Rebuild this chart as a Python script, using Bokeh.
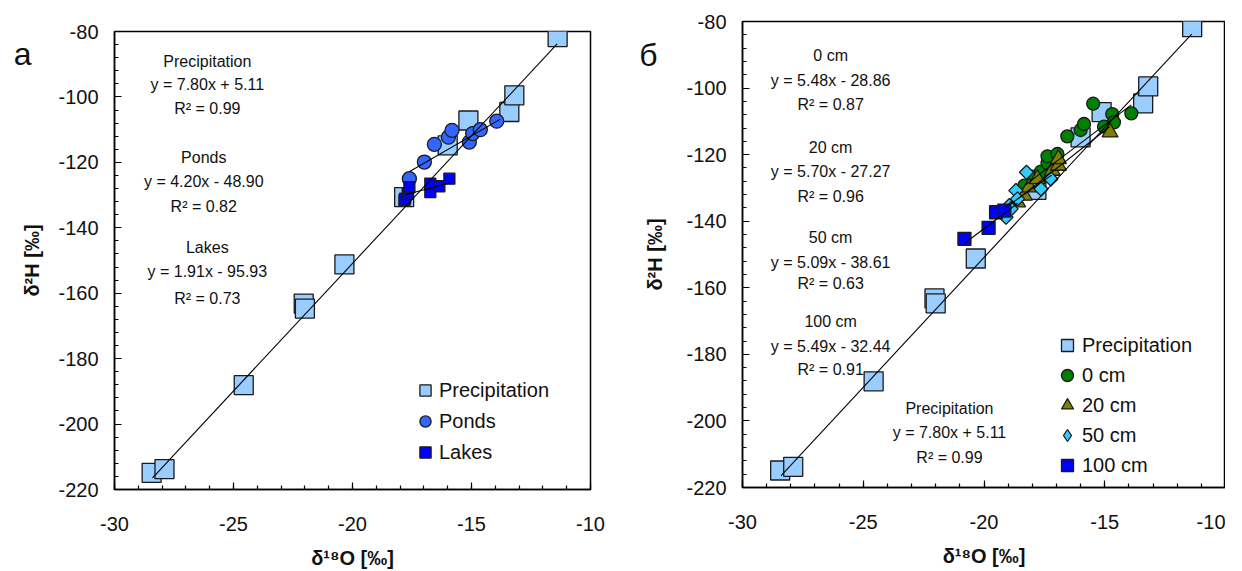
from bokeh.plotting import figure
from bokeh.layouts import row
from bokeh.models import FixedTicker, Label, LinearAxis, Legend, LegendItem
from bokeh.embed import file_html
from bokeh.resources import INLINE

FONT = "Liberation Sans"

# ---------------- data: panel а ----------------
precip_x = [-28.44, -27.90, -24.57, -22.05, -22.00, -20.34, -17.83, -16.00, -15.13, -13.41, -13.20, -11.38]
precip_y = [-214.9, -213.8, -188.1, -163.2, -164.7, -151.2, -130.6, -114.8, -107.2, -104.6, -99.5, -81.7]

ponds_x = [-17.61, -16.98, -16.56, -15.97, -15.82, -15.09, -14.95, -14.63, -13.94]
ponds_y = [-125.0, -119.9, -114.5, -112.3, -110.2, -113.8, -111.2, -110.0, -107.4]

lakes_x = [-17.82, -17.79, -17.68, -17.61, -16.73, -16.73, -16.35, -15.93]
lakes_y = [-131.6, -131.1, -129.6, -127.6, -129.1, -126.5, -127.3, -125.0]

fit_names_a = ["Precipitation", "Ponds", "Lakes"]
fit_slope_a = [7.80, 4.20, 1.91]
fit_icpt_a = [5.11, -48.90, -95.93]
fit_xmin_a = [-28.4, -17.6, -17.8]
fit_xmax_a = [-11.4, -13.8, -15.9]
fit_r2_a = [0.99, 0.82, 0.73]

# ---------------- data: panel б ----------------
cm0_x = [-18.33, -17.99, -17.64, -17.37, -17.37, -16.96, -16.55, -16.00, -15.86, -15.48, -15.03, -14.69, -14.62, -13.90]
cm0_y = [-129.3, -126.6, -125.1, -122.6, -120.5, -119.8, -114.5, -112.6, -110.8, -104.7, -111.6, -107.8, -110.3, -107.6]

cm20_x = [-18.61, -18.33, -18.13, -17.79, -17.17, -16.92, -16.92, -14.78]
cm20_y = [-134.3, -132.3, -129.8, -127.3, -124.8, -123.3, -121.3, -113.3]

cm50_x = [-19.09, -18.95, -18.88, -18.68, -18.61, -18.24, -17.64, -17.23]
cm50_y = [-138.8, -135.3, -136.3, -130.8, -133.3, -125.3, -130.3, -127.3]

cm100_x = [-20.81, -19.81, -19.50, -19.16]
cm100_y = [-145.3, -142.0, -137.3, -136.8]

fit_names_b = ["0 cm", "20 cm", "50 cm", "100 cm", "Precipitation"]
fit_slope_b = [5.48, 5.70, 5.09, 5.49, 7.80]
fit_icpt_b = [-28.86, -27.27, -38.61, -32.44, 5.11]
fit_xmin_b = [-18.3, -18.6, -19.1, -20.8, -28.4]
fit_xmax_b = [-13.9, -14.8, -17.2, -18.6, -11.4]
fit_r2_b = [0.87, 0.96, 0.63, 0.91, 0.99]

x_ticks = [-30, -25, -20, -15, -10]
y_ticks = [-220, -200, -180, -160, -140, -120, -100, -80]
panel_letters = ["а", "б"]

PRECIP = "#99CCFF"
PONDS = "#3366FF"
BLUE = "#0000FF"
GREEN = "#008000"
OLIVE = "#808000"
CYAN = "#33CCFF"
EDGE = "#1a1a1a"
TXT = "#111111"


def eq_text(m, b):
    sign = "+" if b >= 0 else "-"
    return "y = %.2fx %s %.2f" % (m, sign, abs(b))


def make_fig(fw, fh, bl, br, bt, bb, letter, letter_y, letter_standoff, ylab_standoff, xlab_standoff):
    p = figure(frame_width=fw, frame_height=fh,
               min_border_left=bl, min_border_right=br,
               min_border_top=bt, min_border_bottom=bb,
               x_range=(-30, -10), y_range=(-220, -80),
               output_backend="svg", toolbar_location=None,
               background_fill_color="white", border_fill_color="white")
    p.grid.visible = False
    p.outline_line_color = "black"
    p.outline_line_width = 1.5
    p.xaxis.ticker = FixedTicker(ticks=x_ticks, minor_ticks=list(range(-30, -9)))
    p.yaxis.ticker = FixedTicker(ticks=y_ticks, minor_ticks=list(range(-220, -79, 4)))
    p.xaxis.major_label_overrides = {t: str(t) for t in x_ticks}
    p.yaxis.major_label_overrides = {t: str(t) for t in y_ticks}
    for ax in (p.xaxis[0], p.yaxis[0]):
        ax.axis_line_width = 1.5
        ax.axis_line_color = "black"
        ax.major_tick_in = 7
        ax.major_tick_out = 0
        ax.minor_tick_in = 4
        ax.minor_tick_out = 0
        ax.major_tick_line_width = 1.2
        ax.minor_tick_line_width = 1.2
        ax.major_label_text_font = FONT
        ax.major_label_text_font_size = "20px"
        ax.major_label_text_color = TXT
        ax.axis_label_text_font = FONT
        ax.axis_label_text_font_style = "bold"
        ax.axis_label_text_font_size = "20px"
        ax.axis_label_text_color = TXT
    p.xaxis.major_label_standoff = 27
    p.yaxis.major_label_standoff = 16
    p.xaxis.axis_label = "δ¹⁸O [‰]"
    p.xaxis.axis_label_standoff = xlab_standoff

    # outer left axis: carries the panel letter and the y-axis title
    outer = LinearAxis(ticker=FixedTicker(ticks=[letter_y], minor_ticks=[]),
                       major_label_overrides={letter_y: letter},
                       axis_label="δ²H [‰]")
    outer.axis_line_color = None
    outer.major_tick_line_color = None
    outer.minor_tick_line_color = None
    outer.major_tick_in = 0
    outer.major_tick_out = 0
    outer.major_label_standoff = letter_standoff
    outer.major_label_text_font = FONT
    outer.major_label_text_font_size = "32px"
    outer.major_label_text_color = TXT
    outer.axis_label_text_font = FONT
    outer.axis_label_text_font_style = "bold"
    outer.axis_label_text_font_size = "20px"
    outer.axis_label_text_color = TXT
    outer.axis_label_standoff = ylab_standoff
    p.add_layout(outer, "left")
    return p


def add_text(p, x, y, txt):
    p.add_layout(Label(x=x, y=y, text=txt, text_align="center", text_baseline="middle",
                       text_font=FONT, text_font_size="16px", text_color=TXT))


def add_fit_lines(p, slopes, icpts, xmins, xmaxs):
    for m, b, x0, x1 in zip(slopes, icpts, xmins, xmaxs):
        p.line([x0, x1], [m * x0 + b, m * x1 + b], line_color="black", line_width=1.1)


def style_legend(lg, loc, glyph, label_h, spacing, standoff):
    lg.location = loc
    lg.padding = 0
    lg.margin = 0
    lg.spacing = spacing
    lg.glyph_width = glyph
    lg.glyph_height = glyph
    lg.label_height = label_h
    lg.label_standoff = standoff
    lg.label_text_font = FONT
    lg.label_text_font_size = "20px"
    lg.label_text_color = TXT
    lg.border_line_alpha = 0
    lg.background_fill_alpha = 0


# ---------------- panel а ----------------
p1 = make_fig(476, 458, 114, 38, 31, 80, panel_letters[0], -87, 24, -32, 13)
p1.scatter(precip_x, precip_y, marker="square", size=19, fill_color=PRECIP,
           line_color=EDGE, line_width=1.3, legend_label="Precipitation")
p1.scatter(ponds_x, ponds_y, marker="circle", size=14, fill_color=PONDS,
           line_color=EDGE, line_width=1.3, legend_label="Ponds")
p1.scatter(lakes_x, lakes_y, marker="square", size=11, fill_color=BLUE,
           line_color=EDGE, line_width=1.3, legend_label="Lakes")
add_fit_lines(p1, fit_slope_a, fit_icpt_a, fit_xmin_a, fit_xmax_a)

text_x_a = [-26.1, -26.25, -26.1]
text_y_a = [[-89.2, -96.2, -103.5], [-118.5, -125.8, -133.5], [-146.0, -153.3, -161.6]]
for i, name in enumerate(fit_names_a):
    ys = text_y_a[i]
    add_text(p1, text_x_a[i], ys[0], name)
    add_text(p1, text_x_a[i], ys[1], eq_text(fit_slope_a[i], fit_icpt_a[i]))
    add_text(p1, text_x_a[i], ys[2], "R² = %.2f" % fit_r2_a[i])

style_legend(p1.legend[0], (297, 23), 28, 28, 3, -1)

# ---------------- panel б ----------------
# frames of plots in a row get their top borders aligned; the negative top
# margin lifts panel б back to its own frame position
p2 = make_fig(483, 466, 114, 0, 31, 72, panel_letters[1], -90, 26, -30, 13)
p2.margin = (-10, 0, 0, 0)
r_pr = p2.scatter(precip_x, precip_y, marker="square", size=19, fill_color=PRECIP,
                  line_color=EDGE, line_width=1.3)
r_0 = p2.scatter(cm0_x, cm0_y, marker="circle", size=13, fill_color=GREEN,
                 line_color=EDGE, line_width=1.3)
r_20 = p2.scatter(cm20_x, cm20_y, marker="triangle", size=16, fill_color=OLIVE,
                  line_color=EDGE, line_width=1.3)
# legend swatch for the diamonds: zero-size copy, so only the legend shows it
r_50 = p2.scatter(cm50_x, cm50_y, marker="diamond", size=0, fill_color=CYAN,
                  line_color=EDGE, line_width=1.3)
p2.scatter(cm50_x, cm50_y, marker="square", angle=0.7854, size=10, fill_color=CYAN,
           line_color=EDGE, line_width=1.3)
r_100 = p2.scatter(cm100_x, cm100_y, marker="square", size=13, fill_color=BLUE,
                   line_color=EDGE, line_width=1.3)
add_fit_lines(p2, fit_slope_b, fit_icpt_b, fit_xmin_b, fit_xmax_b)

leg2 = Legend(items=[LegendItem(label="Precipitation", renderers=[r_pr]),
                     LegendItem(label="0 cm", renderers=[r_0]),
                     LegendItem(label="20 cm", renderers=[r_20]),
                     LegendItem(label="50 cm", renderers=[r_50]),
                     LegendItem(label="100 cm", renderers=[r_100])])
p2.add_layout(leg2)

text_x_b = [-26.35, -26.35, -26.35, -26.35, -21.43]
text_y_b = [[-90.2, -97.7, -105.0], [-117.9, -125.1, -132.6], [-144.9, -152.5, -158.8],
            [-170.2, -177.7, -184.6], [-196.4, -203.6, -211.1]]
for i, name in enumerate(fit_names_b):
    ys = text_y_b[i]
    add_text(p2, text_x_b[i], ys[0], name)
    add_text(p2, text_x_b[i], ys[1], eq_text(fit_slope_b[i], fit_icpt_b[i]))
    add_text(p2, text_x_b[i], ys[2], "R² = %.2f" % fit_r2_b[i])

style_legend(leg2, (310, 7), 30, 30, 0, -1)

layout = row(p1, p2)
open("out.html", "w").write(file_html(layout, INLINE))
